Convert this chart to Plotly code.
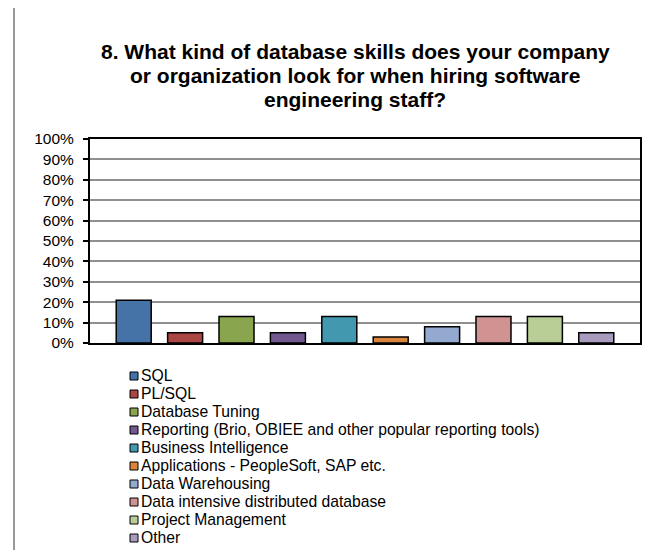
import plotly.graph_objects as go

# ---- data ----
categories = [
    "SQL",
    "PL/SQL",
    "Database Tuning",
    "Reporting (Brio, OBIEE and other popular reporting tools)",
    "Business Intelligence",
    "Applications - PeopleSoft, SAP etc.",
    "Data Warehousing",
    "Data intensive distributed database",
    "Project Management",
    "Other",
]
values = [0.21, 0.05, 0.13, 0.05, 0.13, 0.03, 0.08, 0.13, 0.13, 0.05]
colors = ["#4572A7", "#AA4643", "#89A54E", "#71588F", "#4198AF",
          "#DB843D", "#93A9CF", "#D19392", "#B9CD96", "#A99BBD"]
y_ticks = [0, 0.1, 0.2, 0.3, 0.4, 0.5, 0.6, 0.7, 0.8, 0.9, 1.0]
title_lines = [
    "8. What kind of database skills does your company",
    "or organization look for when hiring software",
    "engineering staff?",
]

# page offset (default body margin of the html page)
OX, OY = 8, 8
W, H = 665 - OX, 550 - OY
# plot area in screen pixels
PL, PR, PT, PB = 90, 640, 139, 343
ML, MR, MT, MB = PL - OX, W - (PR - OX), PT - OY, H - (PB - OY)
PW = PR - PL
PH = PB - PT
FONT = "Liberation Sans, Arial, sans-serif"


def px_x(x):
    return (x - PL) / PW


def px_y(y):
    return (PB - y) / PH


fig = go.Figure()
for name, v, c in zip(categories, values, colors):
    fig.add_trace(go.Bar(
        x=["Q8"], y=[v], name=name,
        marker=dict(color=c, line=dict(color="black", width=1.5)),
        showlegend=False,
    ))

shapes = []
annotations = []

# title lines (Excel-like tight line spacing)
for i, line in enumerate(title_lines):
    baseline = 59 + 24 * i
    annotations.append(dict(text="<b>%s</b>" % line, xref="paper", yref="paper",
                            x=px_x(355), y=px_y(baseline - 7.3), xanchor="center",
                            yanchor="middle", showarrow=False,
                            font=dict(family=FONT, size=21, color="black")))

# legend (manual, to match Excel-like compact layout)
for i, (name, c) in enumerate(zip(categories, colors)):
    yc = 376 + 18 * i
    shapes.append(dict(type="rect", xref="paper", yref="paper",
                       x0=px_x(130), x1=px_x(138), y0=px_y(yc + 4), y1=px_y(yc - 4),
                       fillcolor=c, line=dict(color="black", width=1)))
    annotations.append(dict(text=name, xref="paper", yref="paper",
                            x=px_x(139), y=px_y(yc - 0.5), xanchor="left", yanchor="middle",
                            showarrow=False, font=dict(family=FONT, size=15.7, color="black")))

# outer chart frame (gray) partially visible
shapes.append(dict(type="line", xref="paper", yref="paper",
                   x0=px_x(14), x1=px_x(14), y0=px_y(6), y1=px_y(600),
                   line=dict(color="#999999", width=2)))
shapes.append(dict(type="line", xref="paper", yref="paper",
                   x0=px_x(14), x1=px_x(700), y0=px_y(6), y1=px_y(6),
                   line=dict(color="#999999", width=2)))

# small page marks at the far left
for yy in [171.5, 175, 209.5, 242, 276, 341.5, 375.5, 409.5, 443, 508.5, 542.5]:
    shapes.append(dict(type="rect", xref="paper", yref="paper",
                       x0=px_x(0), x1=px_x(4), y0=px_y(yy + 1.5), y1=px_y(yy - 1.5),
                       fillcolor="black", line=dict(width=0)))

fig.update_layout(
    width=W, height=H,
    margin=dict(l=ML, r=MR, t=MT, b=MB, pad=0),
    paper_bgcolor="white", plot_bgcolor="white",
    barmode="group", bargap=0.0655, bargroupgap=0.319,
    font=dict(family=FONT, color="black"),
    shapes=shapes,
    annotations=annotations,
    showlegend=False,
    xaxis=dict(showticklabels=False, showgrid=False, showline=True, linecolor="black",
               linewidth=2, mirror=True, ticks="", zeroline=False, fixedrange=True),
    yaxis=dict(range=[0, 1], tickvals=y_ticks, tickformat=".0%",
               showgrid=True, gridcolor="#8f8f8f", gridwidth=1.5,
               showline=True, linecolor="black", linewidth=2, mirror=True,
               ticks="outside", ticklen=5, tickwidth=1.5, tickcolor="black",
               ticklabelstandoff=6, zeroline=False,
               tickfont=dict(family=FONT, size=15.5, color="black")),
)

fig.write_html("out.html")
